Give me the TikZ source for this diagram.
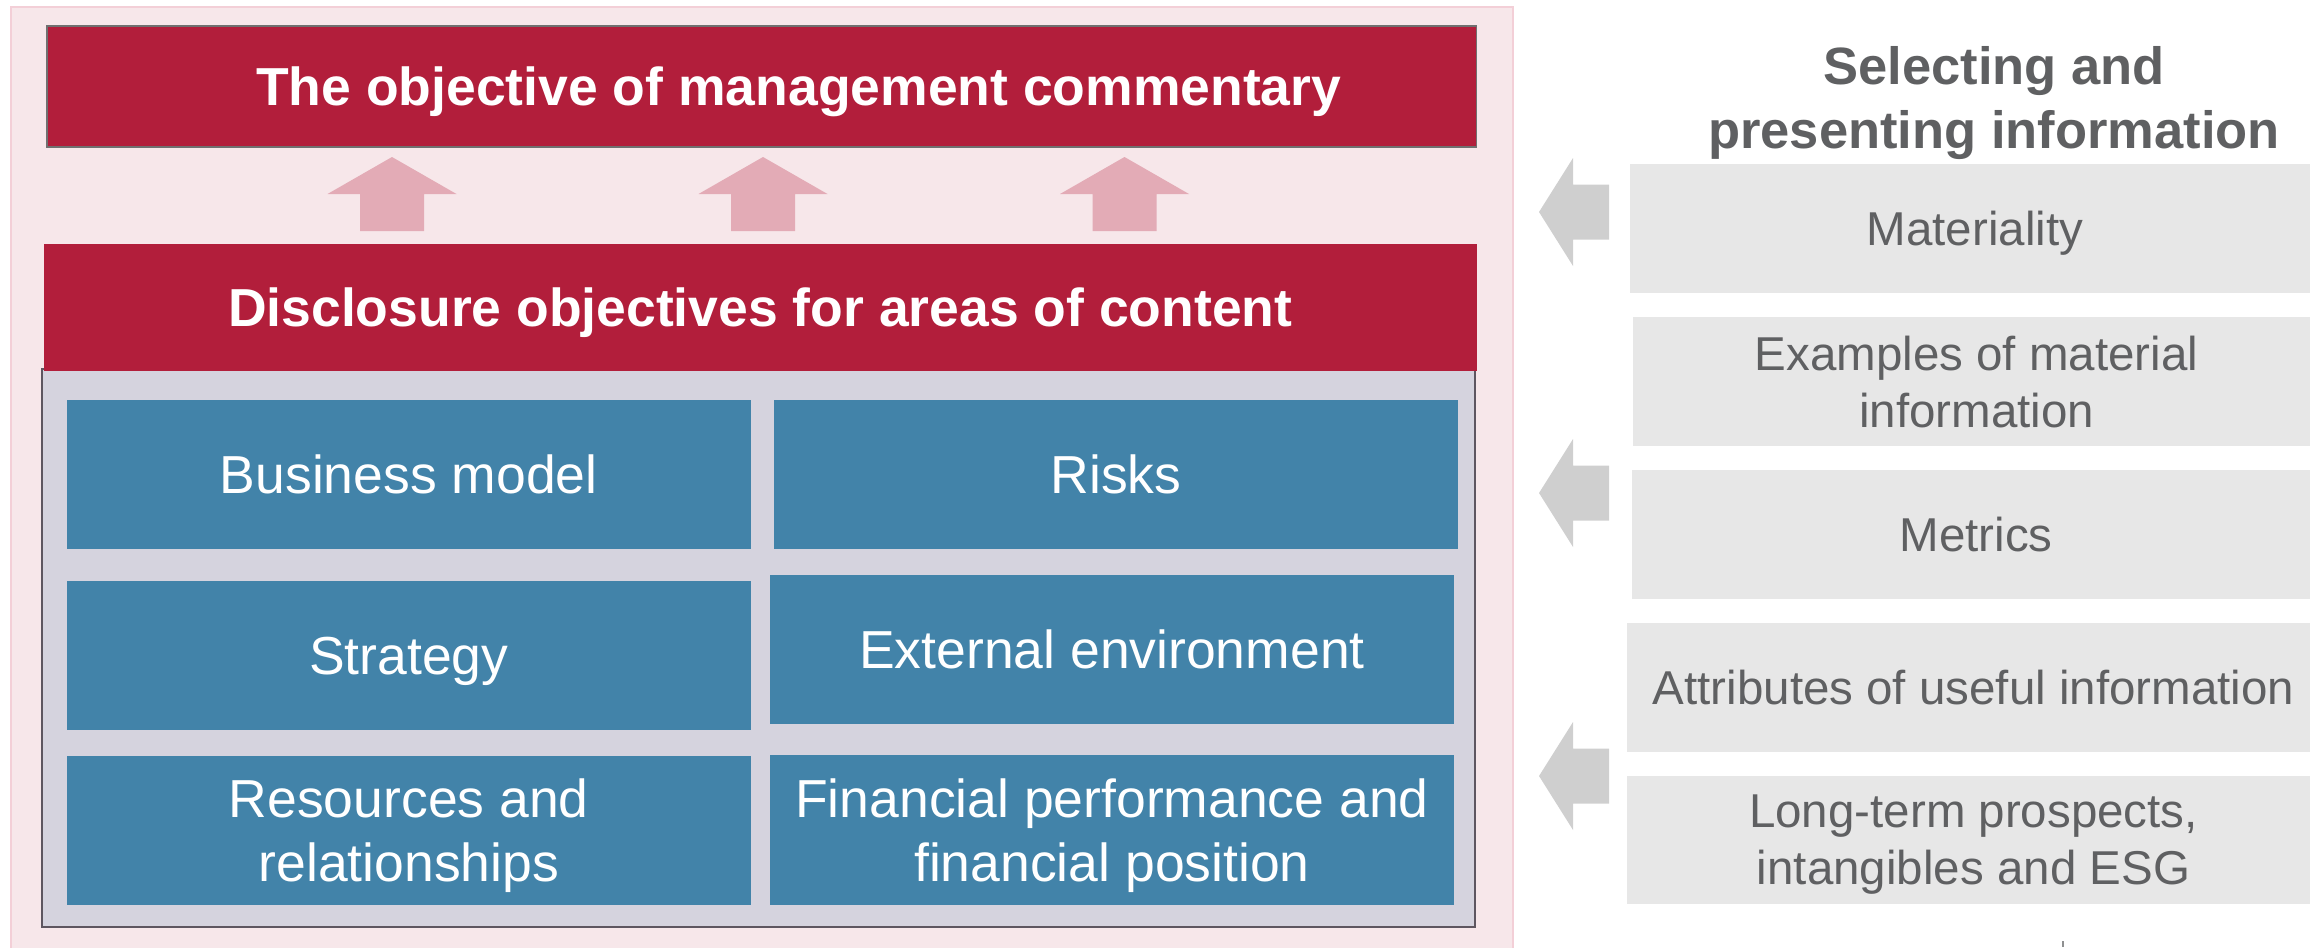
\documentclass[tikz,border=0pt]{standalone}
\usepackage{fontspec}
\setmainfont{Liberation Sans}
\definecolor{redc}{HTML}{B21E3B}
\definecolor{pinkbg}{HTML}{F7E7EA}
\definecolor{pinkline}{HTML}{F3CFD7}
\definecolor{pinkarrow}{HTML}{E3ABB6}
\definecolor{gridbg}{HTML}{D5D3DE}
\definecolor{gridline}{HTML}{5E5660}
\definecolor{bluec}{HTML}{4283A9}
\definecolor{lgray}{HTML}{E7E7E7}
\definecolor{garrow}{HTML}{CFCFCF}
\definecolor{tgray}{HTML}{5F6062}
\definecolor{topline}{HTML}{707070}
\begin{document}
\begin{tikzpicture}[x=0.5pt,y=-0.5pt,
  box/.style={rectangle, inner sep=0pt, outer sep=0pt, align=center, text depth=0pt},
  redbox/.style={box, fill=redc, text=white, font=\bfseries\fontsize{26.75}{32}\selectfont},
  bluebox/.style={box, fill=bluec, text=white, font=\fontsize{26.75}{32}\selectfont, minimum width=341.75pt, minimum height=74.5pt},
  graybox/.style={box, fill=lgray, text=tgray, font=\fontsize{23.75}{28.5}\selectfont, minimum width=345pt, minimum height=64.5pt},
  uparr/.pic={\fill[pinkarrow] (0,0) -- (64.5,37) -- (32,37) -- (32,74) -- (-32,74) -- (-32,37) -- (-64.5,37) -- cycle;},
  leftarr/.pic={\fill[garrow] (0,0) -- (34,-54) -- (34,-27.5) -- (70,-27.5) -- (70,27.5) -- (34,27.5) -- (34,54) -- cycle;}
]
\useasboundingbox (0,0) rectangle (2310,947);
% pink background
\node[box, fill=pinkbg, draw=pinkline, line width=0.75pt, minimum width=751pt, minimum height=471pt] (bg) at (762,478) {};
% top objective box
\node[redbox, draw=topline, line width=0.8pt, minimum width=714.75pt, minimum height=60.5pt] (obj) at (761.75,86.5) {\hspace*{37pt}The objective of management commentary};
% up arrows
\pic at (392,157) {uparr};
\pic at (763,157) {uparr};
\pic at (1124.5,157) {uparr};
% grid background
\node[box, fill=gridbg, draw=gridline, line width=0.8pt, minimum width=716.5pt, minimum height=279pt] (grid) at (758.5,648) {};
% disclosure box
\node[redbox, minimum width=716.25pt, minimum height=63.5pt] (disc) at (760.25,307.5) {Disclosure objectives for areas of content};
% blue boxes
\node[bluebox] (bm) at (408.75,474.5) {Business model};
\node[bluebox, minimum width=342pt] (risks) at (1116,474.5) {Risks};
\node[bluebox] (strat) at (408.75,655.5) {Strategy};
\node[bluebox, minimum width=342pt] (ext) at (1112,649.5) {External environment};
\node[bluebox] (res) at (408.75,830.5) {Resources and\\relationships};
\node[bluebox, minimum width=342pt, minimum height=75pt] (fin) at (1112,830) {Financial performance and\\financial position};
% right column
\node[box, text=tgray, font=\bfseries\fontsize{26.25}{32}\selectfont] (sel) at (1994,97) {Selecting and\\presenting information};
\node[graybox] (mat) at (1975,228.5) {Materiality};
\node[graybox, minimum width=343.5pt] (ex) at (1976.5,381.5) {Examples of material\\information};
\node[graybox, minimum width=344pt] (met) at (1976,534.5) {Metrics};
\node[graybox, minimum width=346.5pt] (attr) at (1973.5,687.5) {Attributes of useful information};
\node[graybox, minimum width=346.5pt, minimum height=64pt] (lt) at (1973.5,840) {Long-term prospects,\\intangibles and ESG};
% left arrows
\pic at (1539,212) {leftarr};
\pic at (1539,493) {leftarr};
\pic at (1539,776) {leftarr};
% small tick
\coordinate (tka) at (2063,941);
\coordinate (tkb) at (2063,947);
\draw[tgray!70, line width=0.6pt] (tka) -- (tkb);
\end{tikzpicture}
\end{document}
